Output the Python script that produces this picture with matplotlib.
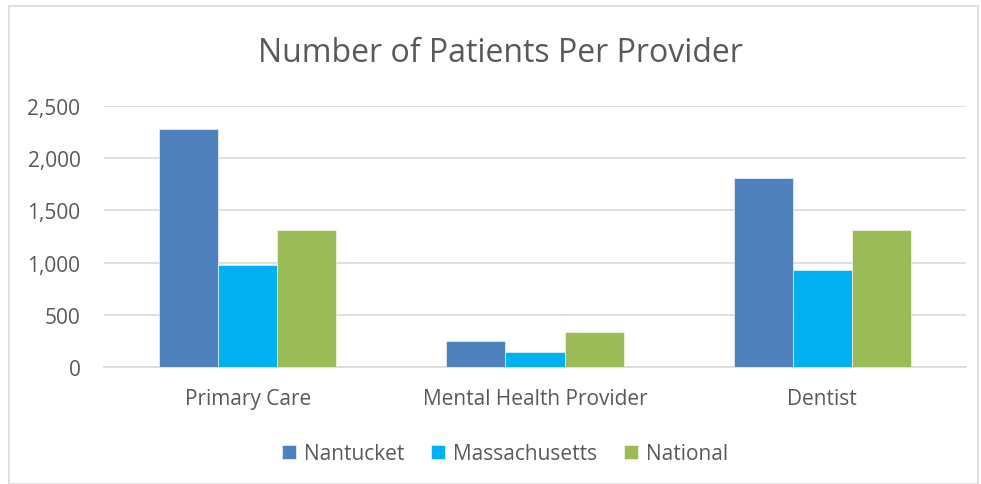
import matplotlib.pyplot as plt
import matplotlib.patches as mpatches
import numpy as np

categories = ['Primary Care', 'Mental Health Provider', 'Dentist']
nantucket = [2280, 250, 1810]
massachusetts = [975, 140, 930]
national = [1310, 340, 1310]
series_names = ['Nantucket', 'Massachusetts', 'National']
colors = ['#4F81BD', '#00B0F0', '#9BBB59']
yticks = [0, 500, 1000, 1500, 2000, 2500]

plt.rcParams['font.family'] = ['Open Sans', 'DejaVu Sans']
text_color = '#595959'

fig = plt.figure(figsize=(9.81, 4.85), dpi=100)
fig.patches.append(mpatches.Rectangle((9 / 981, 0), 969 / 981, 1 - 7 / 485,
                                      transform=fig.transFigure, fill=False,
                                      edgecolor='#D9D9D9', linewidth=1.2))

ax = fig.add_axes([104 / 981, 1 - 368 / 485, 862 / 981, 261 / 485])

x = np.arange(len(categories))
w = 0.206
for i, (vals, name) in enumerate(zip([nantucket, massachusetts, national], series_names)):
    ax.bar(x + (i - 1) * w, vals, width=w, color=colors[i], label=name,
           edgecolor='white', linewidth=0.4, zorder=3)

ax.set_xlim(-0.5, 2.5)
ax.set_ylim(0, 2500)
ax.set_yticks(yticks)
ax.set_yticklabels(['{:,}'.format(v) for v in yticks])
ax.set_xticks(x)
ax.set_xticklabels(categories)
ax.yaxis.grid(True, color='#D9D9D9', linewidth=1.2, zorder=0)
ax.set_axisbelow(True)
for s in ['top', 'right', 'left']:
    ax.spines[s].set_visible(False)
ax.spines['bottom'].set_color('#D9D9D9')
ax.spines['bottom'].set_linewidth(1.2)
ax.tick_params(axis='both', length=0, colors=text_color, labelsize=15)
ax.tick_params(axis='y', pad=17)
ax.tick_params(axis='x', pad=15)

fig.text(0.51, 1 - 53 / 485, 'Number of Patients Per Provider', ha='center', va='center',
         fontsize=23, color=text_color)

leg = fig.legend(loc='center', bbox_to_anchor=(0.515, 1 - 455 / 485), ncol=3, frameon=False,
                 fontsize=15, handlelength=0.65, handleheight=0.65, handletextpad=0.4,
                 columnspacing=1.3)
for t in leg.get_texts():
    t.set_color(text_color)

fig.savefig('out.png', dpi=100)
